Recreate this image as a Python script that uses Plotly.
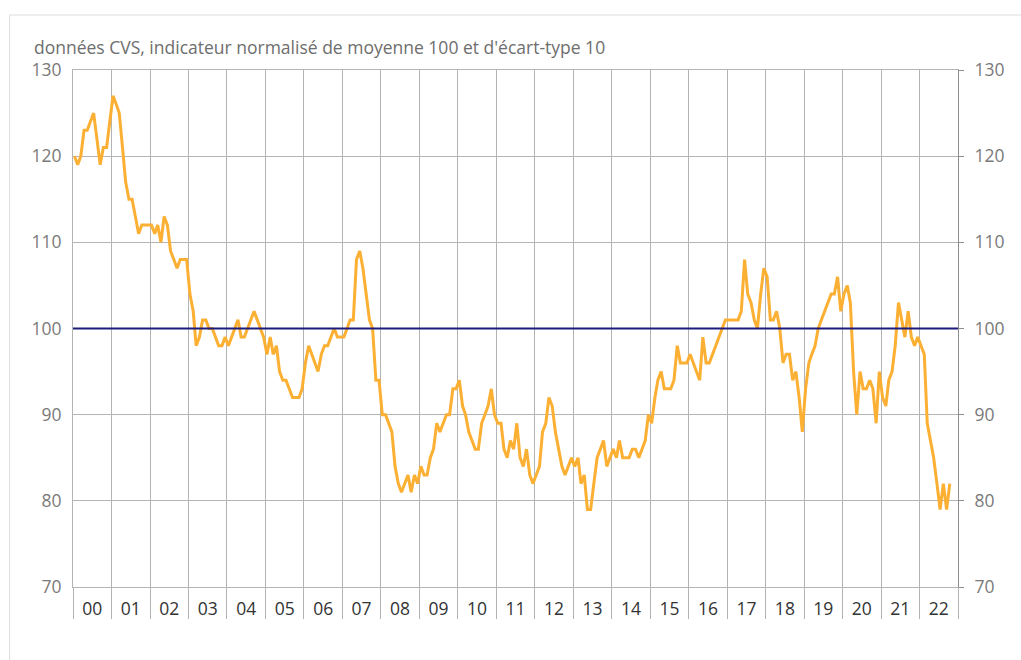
import pandas as pd
import plotly.graph_objects as go

# Monthly values (données CVS, indicateur normalisé)
v2000 = [120, 119, 120, 123, 123, 124, 125, 122, 119, 121, 121, 124]
v2001 = [127, 126, 125, 121, 117, 115, 115, 113, 111, 112, 112, 112]
v2002 = [112, 111, 112, 110, 113, 112, 109, 108, 107, 108, 108, 108]
v2003 = [104, 102, 98, 99, 101, 101, 100, 100, 99, 98, 98, 99]
v2004 = [98, 99, 100, 101, 99, 99, 100, 101, 102, 101, 100, 99]
v2005 = [97, 99, 97, 98, 95, 94, 94, 93, 92, 92, 92, 93]
v2006 = [96, 98, 97, 96, 95, 97, 98, 98, 99, 100, 99, 99]
v2007 = [99, 100, 101, 101, 108, 109, 107, 104, 101, 100, 94, 94]
v2008 = [90, 90, 89, 88, 84, 82, 81, 82, 83, 81, 83, 82]
v2009 = [84, 83, 83, 85, 86, 89, 88, 89, 90, 90, 93, 93]
v2010 = [94, 91, 90, 88, 87, 86, 86, 89, 90, 91, 93, 90]
v2011 = [89, 89, 86, 85, 87, 86, 89, 85, 84, 86, 83, 82]
v2012 = [83, 84, 88, 89, 92, 91, 88, 86, 84, 83, 84, 85]
v2013 = [84, 85, 82, 83, 79, 79, 82, 85, 86, 87, 84, 85]
v2014 = [86, 85, 87, 85, 85, 85, 86, 86, 85, 86, 87, 90]
v2015 = [89, 92, 94, 95, 93, 93, 93, 94, 98, 96, 96, 96]
v2016 = [97, 96, 95, 94, 99, 96, 96, 97, 98, 99, 100, 101]
v2017 = [101, 101, 101, 101, 102, 108, 104, 103, 101, 100, 104, 107]
v2018 = [106, 101, 101, 102, 100, 96, 97, 97, 94, 95, 92, 88]
v2019 = [93, 96, 97, 98, 100, 101, 102, 103, 104, 104, 106, 102]
v2020 = [104, 105, 103, 95, 90, 95, 93, 93, 94, 93, 89, 95]
v2021 = [92, 91, 94, 95, 98, 103, 101, 99, 102, 99, 98, 99]
v2022 = [98, 97, 89, 87, 85, 82, 79, 82, 79, 82]

years = [v2000, v2001, v2002, v2003, v2004, v2005, v2006, v2007, v2008, v2009,
         v2010, v2011, v2012, v2013, v2014, v2015, v2016, v2017, v2018, v2019,
         v2020, v2021, v2022]
values = [v for yr in years for v in yr]

start_month = "2000-01-01"
dates = pd.date_range(start_month, periods=len(values), freq="MS") + pd.Timedelta(days=14)

reference_level = [100, 100]
x_range = ["2000-01-01", "2023-01-01"]
y_range = [70, 130]
y_ticks = [70, 80, 90, 100, 110, 120, 130]

subtitle = "données CVS, indicateur normalisé de moyenne 100 et d'écart-type 10"

FONT = "Open Sans, Noto Sans, DejaVu Sans, sans-serif"
GRID = "#b4b4b4"
FS = 17.5

fig = go.Figure()
fig.add_trace(go.Scatter(
    x=dates, y=values, mode="lines",
    line=dict(color="#fbb034", width=3),
    hoverinfo="x+y", showlegend=False,
))
fig.add_trace(go.Scatter(
    x=x_range, y=reference_level, mode="lines", yaxis="y2",
    line=dict(color="#1c1c7c", width=2),
    hoverinfo="skip", showlegend=False,
))

fig.update_layout(
    width=1021, height=660, autosize=False,
    margin=dict(l=73, r=63, t=70, b=73),
    paper_bgcolor="white", plot_bgcolor="white",
    font=dict(family=FONT),
    xaxis=dict(
        type="date", range=x_range, tick0="2000-01-01", dtick="M12",
        tickformat="%y", ticklabelmode="period",
        ticks="outside", ticklen=31, tickcolor=GRID, tickwidth=1,
        ticklabelstandoff=-25,
        showgrid=True, gridcolor=GRID, gridwidth=1,
        showline=True, linecolor=GRID, linewidth=1, mirror=True,
        zeroline=False,
        tickfont=dict(family=FONT, size=FS, color="#333333"),
    ),
    yaxis=dict(
        range=y_range, tickvals=y_ticks, ticks="",
        ticklabelstandoff=7,
        showgrid=True, gridcolor=GRID, gridwidth=1,
        showline=True, linecolor=GRID, linewidth=1, mirror=False,
        zeroline=False,
        tickfont=dict(family=FONT, size=FS, color="#7a7a7a"),
    ),
    yaxis2=dict(
        range=y_range, tickvals=y_ticks, overlaying="y", side="right",
        ticks="outside", ticklen=5, tickcolor="#8c8c8c",
        ticklabelstandoff=7,
        showgrid=False, showline=True, linecolor="#8c8c8c", linewidth=1,
        zeroline=False,
        tickfont=dict(family=FONT, size=FS, color="#7a7a7a"),
    ),
    annotations=[dict(
        text=subtitle, xref="paper", yref="paper",
        x=-0.0465, y=1.0445, xanchor="left", yanchor="middle",
        showarrow=False, font=dict(family=FONT, size=FS, color="#6e6e6e"),
    )],
    shapes=[
        dict(type="line", xref="paper", yref="paper", x0=-0.0716, x1=1.10,
             y0=1.1064, y1=1.1064, line=dict(color="#dddddd", width=1)),
        dict(type="line", xref="paper", yref="paper", x0=-0.0716, x1=-0.0716,
             y0=-0.2, y1=1.1064, line=dict(color="#dddddd", width=1)),
    ],
)

fig.write_html("out.html", config={"displayModeBar": False},
               post_script="document.body.style.margin='0';")
